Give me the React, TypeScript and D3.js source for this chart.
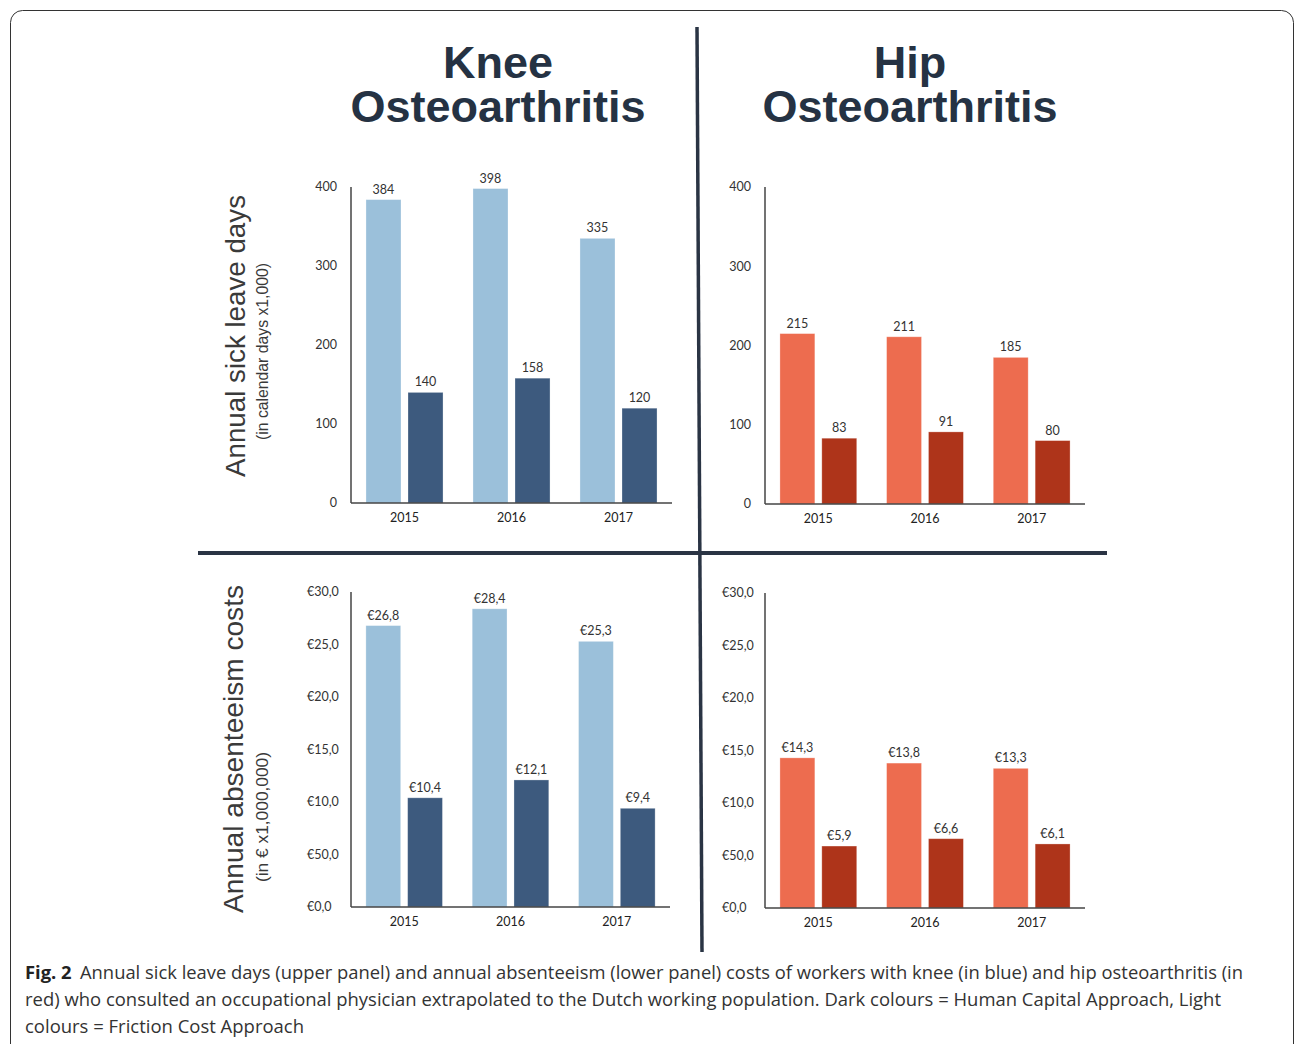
import React from "react";
import * as d3 from "d3";

const years = ["2015", "2016", "2017"];
const series = ["fca", "hca"];

const kneeDaysFCA = [384, 398, 335];
const kneeDaysHCA = [140, 158, 120];
const hipDaysFCA = [215, 211, 185];
const hipDaysHCA = [83, 91, 80];

const kneeCostFCA = [26.8, 28.4, 25.3];
const kneeCostHCA = [10.4, 12.1, 9.4];
const hipCostFCA = [14.3, 13.8, 13.3];
const hipCostHCA = [5.9, 6.6, 6.1];

const daysTicks = [0, 100, 200, 300, 400];
const daysTickLabels = ["0", "100", "200", "300", "400"];
const costTicks = [0, 5, 10, 15, 20, 25, 30];
const costTickLabels = ["€0,0", "€50,0", "€10,0", "€15,0", "€20,0", "€25,0", "€30,0"];

const BLUE_LIGHT = "#9bc0da";
const BLUE_DARK = "#3d5a7e";
const RED_LIGHT = "#ed6c4f";
const RED_DARK = "#ae341a";

const fmtDays = (v: number) => String(v);
const fmtCost = (v: number) => "€" + v.toFixed(1).replace(".", ",");

type PanelProps = {
  x0: number; x1: number; y0: number; yTop: number; max: number;
  fca: number[]; hca: number[]; colors: string[];
  ticks: number[]; tickLabels: string[]; tickAnchor: "end" | "start"; tickX: number;
  fmt: (v: number) => string; labelFont: number;
};

function Panel(p: PanelProps) {
  const x = d3.scaleBand<string>().domain(years).range([p.x0, p.x1]).paddingInner(0.28).paddingOuter(0.14);
  const xi = d3.scaleBand<string>().domain(series).range([0, x.bandwidth()]).paddingInner(1 / 6);
  const y = d3.scaleLinear().domain([0, p.max]).range([p.y0, p.yTop]);
  const vals: Record<string, number[]> = { fca: p.fca, hca: p.hca };
  return (
    <g>
      {years.map((yr, i) => (
        <g key={yr}>
          {series.map((s, j) => {
            const v = vals[s][i];
            const bx = (x(yr) as number) + (xi(s) as number);
            return (
              <g key={s}>
                <rect x={bx} y={y(v)} width={xi.bandwidth()} height={p.y0 - y(v)} fill={p.colors[j]}
                  stroke="#ffffff" strokeOpacity={0.35} strokeWidth={0.8} />
                <text x={bx + xi.bandwidth() / 2} y={y(v) - 6} textAnchor="middle" fontFamily="Lato"
                  fontSize={p.labelFont} fill="#333">{p.fmt(v)}</text>
              </g>
            );
          })}
          <text x={(x(yr) as number) + x.bandwidth() / 2} y={p.y0 + 19} textAnchor="middle" fontFamily="Lato"
            fontSize={12.5} fill="#222">{yr}</text>
        </g>
      ))}
      {p.ticks.map((t, i) => (
        <text key={t} x={p.tickX} y={y(t)} dy="0.35em" textAnchor={p.tickAnchor} fontFamily="Lato"
          fontSize={12.5} fill="#333">{p.tickLabels[i]}</text>
      ))}
      <line x1={p.x0} x2={p.x0} y1={p.yTop} y2={p.y0} stroke="#444" strokeWidth={1.5} />
      <line x1={p.x0} x2={p.x1} y1={p.y0} y2={p.y0} stroke="#444" strokeWidth={1.5} />
    </g>
  );
}

export default function App() {
  const titleStyle = { fontFamily: "Liberation Sans, Arial, sans-serif", fontWeight: 700, fontSize: 45, fill: "#253243" } as any;
  const capStyle = { fontFamily: "Open Sans", fontSize: 17.5, fill: "#333" } as any;
  return (
    <svg width={1295} height={1044} style={{ position: "absolute", left: 0, top: 0, background: "#fff" }}>
      <rect x={10.5} y={10.5} width={1283} height={1060} rx={12} fill="#fff" stroke="#333" strokeWidth={1} />

      <text x={498} y={78} textAnchor="middle" style={titleStyle}>Knee</text>
      <text x={498} y={122} textAnchor="middle" style={titleStyle}>Osteoarthritis</text>
      <text x={910} y={78} textAnchor="middle" style={titleStyle}>Hip</text>
      <text x={910} y={122} textAnchor="middle" style={titleStyle}>Osteoarthritis</text>

      <line x1={697} y1={27} x2={702} y2={952} stroke="#2a3444" strokeWidth={3.5} />
      <line x1={198} y1={553} x2={1107} y2={553} stroke="#2a3444" strokeWidth={4} />

      <text transform="translate(245,336) rotate(-90)" textAnchor="middle" fontFamily="Liberation Sans, Arial"
        fontSize={28} fill="#3a3a3a" textLength={282} lengthAdjust="spacingAndGlyphs">Annual sick leave days</text>
      <text transform="translate(268,351.5) rotate(-90)" textAnchor="middle" fontFamily="Liberation Sans, Arial"
        fontSize={17} fill="#3a3a3a" textLength={177} lengthAdjust="spacingAndGlyphs">(in calendar days x1,000)</text>
      <text transform="translate(243,749) rotate(-90)" textAnchor="middle" fontFamily="Liberation Sans, Arial"
        fontSize={28} fill="#3a3a3a" textLength={328} lengthAdjust="spacingAndGlyphs">Annual absenteeism costs</text>
      <text transform="translate(268,817) rotate(-90)" textAnchor="middle" fontFamily="Liberation Sans, Arial"
        fontSize={17} fill="#3a3a3a" textLength={130} lengthAdjust="spacingAndGlyphs">(in € x1,000,000)</text>

      <Panel x0={351} x1={672} y0={503} yTop={187} max={400} fca={kneeDaysFCA} hca={kneeDaysHCA}
        colors={[BLUE_LIGHT, BLUE_DARK]} ticks={daysTicks} tickLabels={daysTickLabels} tickAnchor="end" tickX={337}
        fmt={fmtDays} labelFont={12.5} />
      <Panel x0={765} x1={1085} y0={504} yTop={187} max={400} fca={hipDaysFCA} hca={hipDaysHCA}
        colors={[RED_LIGHT, RED_DARK]} ticks={daysTicks} tickLabels={daysTickLabels} tickAnchor="end" tickX={751}
        fmt={fmtDays} labelFont={12.5} />
      <Panel x0={351} x1={670} y0={907} yTop={592} max={30} fca={kneeCostFCA} hca={kneeCostHCA}
        colors={[BLUE_LIGHT, BLUE_DARK]} ticks={costTicks} tickLabels={costTickLabels} tickAnchor="start" tickX={307}
        fmt={fmtCost} labelFont={12.5} />
      <Panel x0={765} x1={1085} y0={908} yTop={593} max={30} fca={hipCostFCA} hca={hipCostHCA}
        colors={[RED_LIGHT, RED_DARK]} ticks={costTicks} tickLabels={costTickLabels} tickAnchor="start" tickX={722}
        fmt={fmtCost} labelFont={12.5} />

      <text x={25} y={979} style={capStyle} textLength={1218} lengthAdjust="spacingAndGlyphs">
        <tspan fontWeight={700} fill="#222">Fig. 2</tspan>
        <tspan dx={8}>{"Annual sick leave days (upper panel) and annual absenteeism (lower panel) costs of workers with knee (in blue) and hip osteoarthritis (in"}</tspan>
      </text>
      <text x={25} y={1006} style={capStyle} textLength={1196} lengthAdjust="spacingAndGlyphs">
        red) who consulted an occupational physician extrapolated to the Dutch working population. Dark colours = Human Capital Approach, Light
      </text>
      <text x={25} y={1033} style={capStyle} textLength={279} lengthAdjust="spacingAndGlyphs">
        colours = Friction Cost Approach
      </text>
    </svg>
  );
}
